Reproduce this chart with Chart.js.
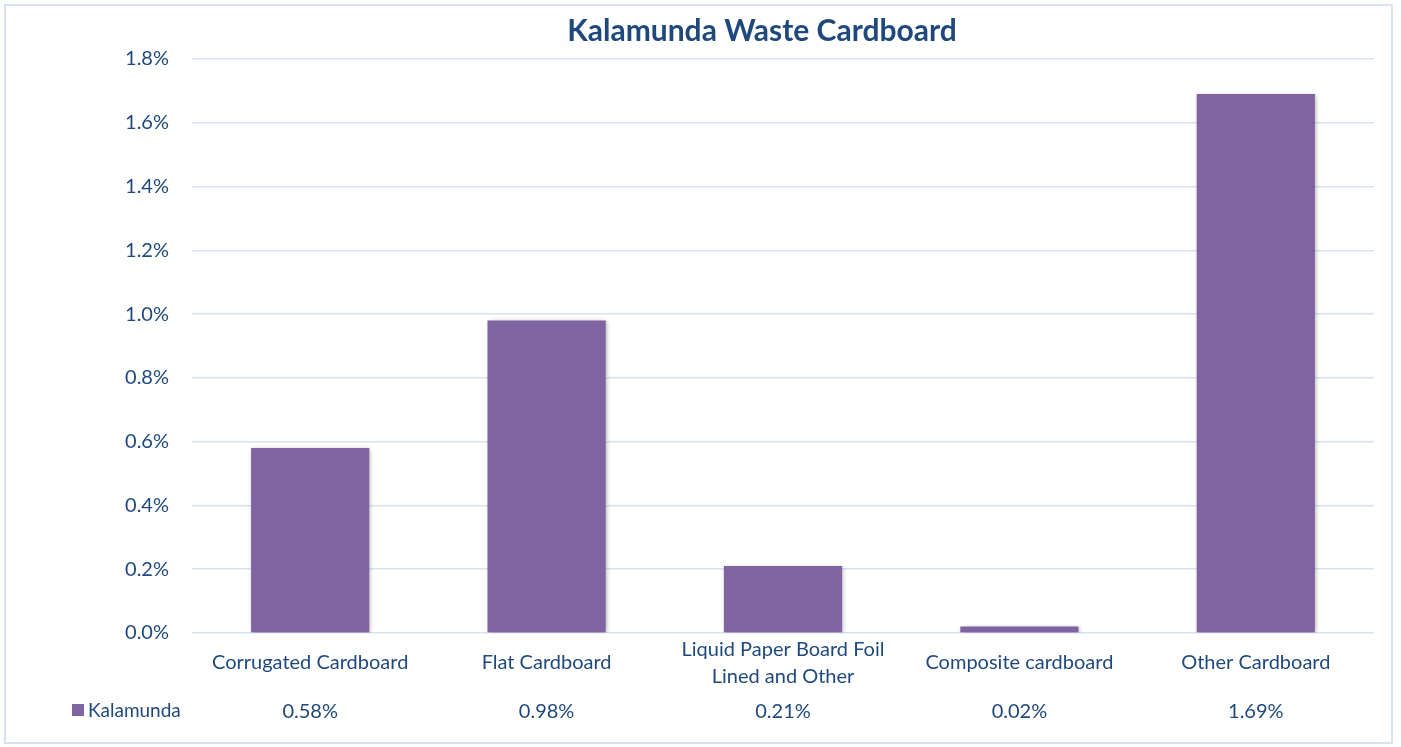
<!DOCTYPE html>
<html>
<head>
<meta charset="utf-8">
<script src="https://cdn.jsdelivr.net/npm/chart.js@4/dist/chart.umd.min.js"></script>
<style>
  html, body { margin: 0; padding: 0; background: #ffffff; }
  #wrap { position: relative; width: 1401px; height: 747px; }
  #frame { position: absolute; left: 4px; top: 4px; width: 1389px; height: 740px;
           border: 2px solid #D9E2F1; box-sizing: border-box; pointer-events: none; }
  canvas { display: block; }
</style>
</head>
<body>
<div id="wrap">
  <canvas id="c" width="1401" height="747"></canvas>
  <div id="frame"></div>
</div>
<script>
// Chart content
const chartTitle = 'Kalamunda Waste Cardboard';
const seriesName = 'Kalamunda';
const categories = [
  ['Corrugated Cardboard'],
  ['Flat Cardboard'],
  ['Liquid Paper Board Foil', 'Lined and Other'],
  ['Composite cardboard'],
  ['Other Cardboard']
];
const kalamundaPct = [0.58, 0.98, 0.21, 0.02, 1.69];
const yMax = 1.8;
const yStep = 0.2;

const TEXT = '#1F497D';
const BAR = '#8064A2';
const GRID = '#D9E2F1';
const FONT = 'Lato, "Open Sans", sans-serif';

// Title, category labels and the data-table row beneath the axis
const tablePlugin = {
  id: 'tablePlugin',
  afterDraw(chart) {
    const ctx = chart.ctx;
    const x = chart.scales.x;
    const area = chart.chartArea;
    ctx.save();
    ctx.fillStyle = TEXT;
    ctx.textBaseline = 'middle';
    ctx.textAlign = 'center';

    ctx.font = 'bold 30px ' + FONT;
    ctx.fillText(chartTitle, 762, 31);

    ctx.font = '20px ' + FONT;
    const lineH = 27;
    const midY = area.bottom + 30;
    categories.forEach((lines, i) => {
      const cx = x.getPixelForValue(i);
      const top = midY - (lines.length - 1) * lineH / 2;
      lines.forEach((ln, k) => ctx.fillText(ln, cx, top + k * lineH));
      ctx.fillText(kalamundaPct[i].toFixed(2) + '%', cx, area.bottom + 79);
    });

    // legend key of the table row
    ctx.fillStyle = BAR;
    ctx.fillRect(72, 704, 12, 12);
    ctx.fillStyle = TEXT;
    ctx.textAlign = 'left';
    ctx.font = '19px ' + FONT;
    ctx.fillText(seriesName, 88, area.bottom + 78);
    ctx.restore();
  }
};

// Soft drop shadow under the bars
const shadowPlugin = {
  id: 'shadowPlugin',
  beforeDatasetsDraw(chart) {
    const ctx = chart.ctx;
    ctx.save();
    ctx.shadowColor = 'rgba(0,0,0,0.28)';
    ctx.shadowBlur = 4;
    ctx.shadowOffsetX = 1;
    ctx.shadowOffsetY = 1;
  },
  afterDatasetsDraw(chart) {
    chart.ctx.restore();
  }
};

new Chart(document.getElementById('c'), {
  type: 'bar',
  data: {
    labels: categories.map(l => l.join(' ')),
    datasets: [{
      label: seriesName,
      data: kalamundaPct,
      backgroundColor: BAR,
      borderWidth: 0,
      barPercentage: 1.0,
      categoryPercentage: 0.5
    }]
  },
  options: {
    responsive: false,
    animation: false,
    devicePixelRatio: 1,
    layout: { padding: { left: 0, right: 27, top: 59, bottom: 114 } },
    plugins: {
      legend: { display: false },
      title: { display: false },
      tooltip: { enabled: false }
    },
    scales: {
      x: {
        grid: { display: false },
        border: { display: false },
        ticks: { display: false },
        afterFit(scale) { scale.height = 0; }
      },
      y: {
        min: 0,
        max: yMax,
        grid: { color: GRID, lineWidth: 1.5, drawTicks: false },
        border: { display: false },
        ticks: {
          stepSize: yStep,
          padding: 23,
          color: TEXT,
          font: { family: FONT, size: 20 },
          callback: v => v.toFixed(1) + '%'
        },
        afterFit(scale) { scale.width = 192; }
      }
    }
  },
  plugins: [shadowPlugin, tablePlugin]
});
</script>
</body>
</html>
